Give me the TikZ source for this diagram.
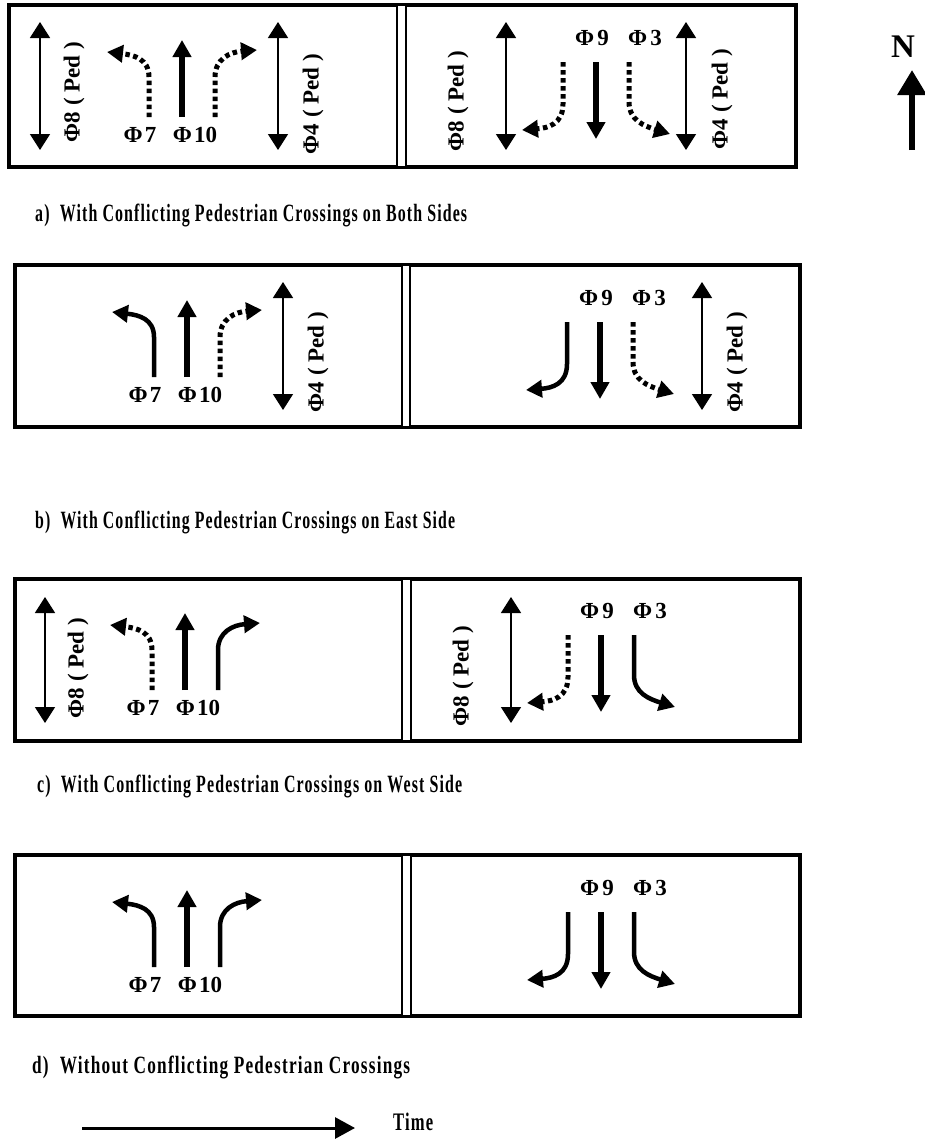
\documentclass[tikz,border=0pt]{standalone}
\usepackage{fontspec}
\usepackage{graphicx}
\setmainfont{Liberation Serif}
\newfontfamily\capfont[LetterSpace=7]{Liberation Serif}
\usetikzlibrary{arrows.meta}
\tikzset{
 box/.style={line width=4pt},
 divider/.style={line width=1.2pt, fill=white},
 ped/.style={line width=1.6pt, {Triangle[width=20pt,length=16pt]}-{Triangle[width=20pt,length=16pt]}},
 through/.style={line width=5.5pt, -{Triangle[width=18pt,length=17pt]}},
 turnsolid/.style={line width=4.5pt, -{Triangle[width=17pt,length=16pt]}},
 turndot/.style={line width=5pt, dash pattern=on 4.5pt off 3.5pt, -{Triangle[width=17pt,length=16pt]}},
 phase/.style={font=\bfseries\fontsize{23}{26}\selectfont, inner sep=0pt},
 pedlabel/.style={font=\bfseries\fontsize{23}{26}\selectfont, rotate=90, inner sep=0pt},
 caption/.style={font=\capfont\bfseries\fontsize{18}{22}\selectfont, anchor=base west, inner sep=0pt},
}
\newcommand{\LeftGroup}[5]{%
\begin{scope}[shift={(#2,#3)}]
 \coordinate (#1Ls) at (-33,0); \coordinate (#1Le) at (-75,-65);
 \coordinate (#1Ts) at (0,0);   \coordinate (#1Te) at (0,-77);
 \coordinate (#1Rs) at (33,0);  \coordinate (#1Re) at (75,-67);
 \draw[#4] (#1Ls) -- (-33,-40) .. controls (-33,-58) and (-48,-62) .. (#1Le);
 \draw[through] (#1Ts) -- (#1Te);
 \draw[#5] (#1Rs) -- (33,-40) .. controls (33,-58) and (48,-65) .. (#1Re);
 \node[phase] (#1P7) at (-42,18) {Φ\kern2pt 7};
 \node[phase] (#1P10) at (13,18) {Φ\kern2pt 10};
\end{scope}}
\newcommand{\RightGroup}[5]{%
\begin{scope}[shift={(#2,#3)}]
 \coordinate (#1Ls) at (-33,0); \coordinate (#1Le) at (-74,68);
 \coordinate (#1Ts) at (0,0);   \coordinate (#1Te) at (0,77);
 \coordinate (#1Rs) at (33,0);  \coordinate (#1Re) at (74,72);
 \draw[#4] (#1Ls) -- (-33,42) .. controls (-33,62) and (-48,66) .. (#1Le);
 \draw[through] (#1Ts) -- (#1Te);
 \draw[#5] (#1Rs) -- (33,40) .. controls (33,58) and (48,64) .. (#1Re);
 \node[phase] (#1P9) at (-4,-24) {Φ\kern3pt 9};
 \node[phase] (#1P3) at (49,-24) {Φ\kern3pt 3};
\end{scope}}
\newcommand{\capbox}[2]{\resizebox{#1}{17.5pt}{#2}}
\begin{document}
\begin{tikzpicture}[x=1pt,y=-1pt]
\useasboundingbox (0,0) rectangle (925,1141);
\fill[white] (0,0) rectangle (925,1141);

% ---------- panel a
\draw[box] (9,5) rectangle (796,167);
\draw[divider] (397,5) rectangle (406,167);
\coordinate (a8t) at (40,22); \coordinate (a8b) at (40,150);
\draw[ped] (a8t) -- (a8b);
\node[pedlabel] (a8l) at (74,92) {Φ8 ( Ped )};
\LeftGroup{a}{182}{117}{turndot}{turndot}
\coordinate (a4t) at (278,22); \coordinate (a4b) at (278,150);
\draw[ped] (a4t) -- (a4b);
\node[pedlabel] (a4l) at (313,104) {Φ4 ( Ped )};
\coordinate (A8t) at (506,22); \coordinate (A8b) at (506,150);
\draw[ped] (A8t) -- (A8b);
\node[pedlabel] (A8l) at (458,101) {Φ8 ( Ped )};
\RightGroup{A}{596}{62}{turndot}{turndot}
\coordinate (A4t) at (686,22); \coordinate (A4b) at (686,150);
\draw[ped] (A4t) -- (A4b);
\node[pedlabel] (A4l) at (722,99) {Φ4 ( Ped )};
\node[caption] (capa) at (35,221) {\capbox{432pt}{a)\ \ With Conflicting Pedestrian Crossings on Both Sides}};

% ---------- panel b
\draw[box] (15,265) rectangle (800,427);
\draw[divider] (402,265) rectangle (410,427);
\LeftGroup{b}{187}{377}{turnsolid}{turndot}
\coordinate (b4t) at (283,282); \coordinate (b4b) at (283,410);
\draw[ped] (b4t) -- (b4b);
\node[pedlabel] (b4l) at (318,362) {Φ4 ( Ped )};
\RightGroup{B}{600}{322}{turnsolid}{turndot}
\coordinate (B4t) at (702,282); \coordinate (B4b) at (702,410);
\draw[ped] (B4t) -- (B4b);
\node[pedlabel] (B4l) at (737,362) {Φ4 ( Ped )};
\node[caption] (capb) at (35,528) {\capbox{420pt}{b)\ \ With Conflicting Pedestrian Crossings on East Side}};

% ---------- panel c
\draw[box] (15,579) rectangle (800,741);
\draw[divider] (402,579) rectangle (411,741);
\coordinate (c8t) at (45,597); \coordinate (c8b) at (45,723);
\draw[ped] (c8t) -- (c8b);
\node[pedlabel] (c8l) at (78,668) {Φ8 ( Ped )};
\LeftGroup{c}{185}{690}{turndot}{turnsolid}
\coordinate (C8t) at (511,597); \coordinate (C8b) at (511,723);
\draw[ped] (C8t) -- (C8b);
\node[pedlabel] (C8l) at (463,676) {Φ8 ( Ped )};
\RightGroup{C}{601}{635}{turndot}{turnsolid}
\node[caption] (capc) at (37,792) {\capbox{425pt}{c)\ \ With Conflicting Pedestrian Crossings on West Side}};

% ---------- panel d
\draw[box] (15,855) rectangle (800,1016);
\draw[divider] (402,855) rectangle (411,1016);
\LeftGroup{d}{187}{967}{turnsolid}{turnsolid}
\RightGroup{D}{601}{912}{turnsolid}{turnsolid}
\node[caption] (capd) at (32,1073) {\capbox{378pt}{d)\ \ Without Conflicting Pedestrian Crossings}};

% ---------- north arrow
\node[font=\bfseries\fontsize{33}{36}\selectfont, inner sep=0pt] (N) at (903,47) {N};
\coordinate (Nb) at (912,150); \coordinate (Nt) at (912,70);
\draw[line width=6pt, -{Triangle[width=28pt,length=25pt]}] (Nb) -- (Nt);

% ---------- time arrow
\coordinate (t0) at (82,1128); \coordinate (t1) at (355,1128);
\draw[line width=3pt, -{Triangle[width=21pt,length=20pt]}] (t0) -- (t1);
\node[caption] (time) at (393,1130) {\capbox{40pt}{Time}};
\end{tikzpicture}
\end{document}
